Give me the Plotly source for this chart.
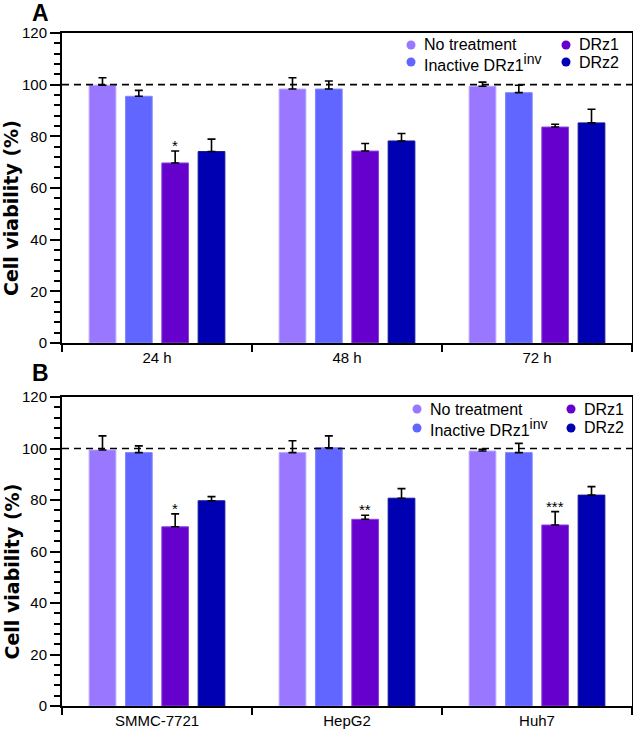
import plotly.graph_objects as go

# ---------------- data ----------------
times = ["24 h", "48 h", "72 h"]
cells = ["SMMC-7721", "HepG2", "Huh7"]
groups = ["No treatment", "Inactive DRz1<sup><span style='font-size:14px'>inv</span></sup>", "DRz1", "DRz2"]
colors = ["#9977ff", "#6066ff", "#6600cc", "#0000b3"]
edge_colors = ["#b8a6ff", "#8088ff", "#8f45dd", "#14149a"]

# Panel A (time course)
a_no = [99.8, 98.3, 99.4]
a_inact = [95.5, 98.3, 96.9]
a_drz1 = [69.7, 74.3, 83.6]
a_drz2 = [74.1, 78.2, 85.2]
a_no_err = [2.9, 4.4, 1.6]
a_inact_err = [2.3, 3.1, 2.9]
a_drz1_err = [4.6, 2.9, 1.1]
a_drz2_err = [4.8, 2.9, 5.3]
a_stars = ["*", "", ""]

# Panel B (cell lines)
b_no = [99.4, 98.4, 99.0]
b_inact = [98.4, 100.3, 98.4]
b_drz1 = [69.6, 72.5, 70.3]
b_drz2 = [79.7, 80.7, 81.9]
b_no_err = [5.5, 4.6, 0.7]
b_inact_err = [2.6, 4.6, 3.6]
b_drz1_err = [5.0, 1.6, 5.2]
b_drz2_err = [1.6, 3.7, 3.3]
b_stars = ["*", "**", "***"]

# ---------------- layout constants ----------------
W, H = 633, 734
ML, MR = 62, 1
PLOT_W = W - ML - MR
BARGAP = 0.235
BARGROUPGAP = 0.265
FONT = "Liberation Sans, Arial, sans-serif"


def px_x(px):
    return (px - ML) / PLOT_W


def px_y(py):
    return (H - py) / H


panels = [
    dict(cats=times, vals=[a_no, a_inact, a_drz1, a_drz2],
         errs=[a_no_err, a_inact_err, a_drz1_err, a_drz2_err],
         stars=a_stars, top=33, bottom=343, label="A", label_y=13,
         leg_x=[411, 566], leg_y=[45, 62], xa="x", ya="y"),
    dict(cats=cells, vals=[b_no, b_inact, b_drz1, b_drz2],
         errs=[b_no_err, b_inact_err, b_drz1_err, b_drz2_err],
         stars=b_stars, top=397, bottom=706, label="B", label_y=373,
         leg_x=[417, 571], leg_y=[409, 428], xa="x2", ya="y2"),
]

fig = go.Figure()
annotations = []
shapes = []

for p in panels:
    for i, g in enumerate(groups):
        fig.add_trace(go.Bar(
            x=p["cats"], y=p["vals"][i], name=g, showlegend=False,
            marker=dict(color=colors[i], line=dict(color=edge_colors[i], width=1)),
            error_y=dict(type="data", symmetric=False, array=p["errs"][i],
                         arrayminus=[0] * len(p["cats"]),
                         color="black", thickness=1.6, width=4),
            xaxis=p["xa"], yaxis=p["ya"],
        ))
    # significance stars over DRz1 bars
    cat_px = PLOT_W / len(p["cats"])
    slot_px = cat_px * (1 - BARGAP) / len(groups)
    drz1_shift = (2 - (len(groups) - 1) / 2) * slot_px
    for j, s in enumerate(p["stars"]):
        if s:
            annotations.append(dict(
                x=p["cats"][j], y=p["vals"][2][j] + p["errs"][2][j],
                xref=p["xa"], yref=p["ya"], text=s, showarrow=False,
                xanchor="center", yanchor="bottom", xshift=drz1_shift, yshift=-5,
                font=dict(family=FONT, size=15, color="black")))
    # dashed 100% line
    shapes.append(dict(type="line", xref=p["xa"] + " domain", yref=p["ya"],
                       x0=0, x1=1, y0=100, y1=100,
                       line=dict(color="black", width=1.6, dash="7px,5px")))
    # panel letter
    annotations.append(dict(x=px_x(40), y=px_y(p["label_y"]), xref="paper", yref="paper",
                            text="<b>" + p["label"] + "</b>", showarrow=False,
                            xanchor="center", yanchor="middle",
                            font=dict(family=FONT, size=23, color="black")))
    # y-axis title
    mid = (p["top"] + p["bottom"]) / 2 + 20
    annotations.append(dict(x=px_x(11), y=px_y(mid), xref="paper", yref="paper",
                            text="<b>Cell viability (%)</b>", textangle=-90, showarrow=False,
                            xanchor="center", yanchor="middle",
                            font=dict(family="DejaVu Sans, sans-serif", size=19, color="black")))
    # legend (two columns)
    order = [[0, 1], [2, 3]]
    for c, col in enumerate(order):
        for r, gi in enumerate(col):
            cx, cy = p["leg_x"][c], p["leg_y"][r]
            shapes.append(dict(type="circle", xref="paper", yref="paper",
                               xsizemode="pixel", ysizemode="pixel",
                               xanchor=px_x(cx), yanchor=px_y(cy),
                               x0=-4.5, x1=4.5, y0=-4.5, y1=4.5,
                               fillcolor=colors[gi], line=dict(width=0)))
            annotations.append(dict(x=px_x(cx + 11), y=px_y(cy), xref="paper", yref="paper",
                                    text=groups[gi], showarrow=False,
                                    xanchor="left", yanchor="middle",
                                    font=dict(family=FONT, size=16, color="black")))

axis_common = dict(showline=True, linecolor="black", linewidth=2, mirror=True,
                   ticks="outside", tickcolor="black", tickwidth=1.6,
                   tickfont=dict(family=FONT, size=15, color="black"),
                   showgrid=False, zeroline=False, automargin=False)

yaxis_common = dict(axis_common, range=[0, 120], dtick=20, tick0=0, ticklen=10,
                    minor=dict(dtick=4, ticklen=6, ticks="outside", tickcolor="black",
                               tickwidth=1.6, showgrid=False))
xaxis_common = dict(axis_common, tickson="boundaries", ticklen=7)

fig.update_layout(
    width=W, height=H,
    margin=dict(l=ML, r=MR, t=0, b=0, autoexpand=False),
    paper_bgcolor="white", plot_bgcolor="white",
    barmode="group", bargap=BARGAP, bargroupgap=BARGROUPGAP,
    xaxis=dict(xaxis_common, domain=[0, 1], anchor="y"),
    yaxis=dict(yaxis_common, domain=[px_y(343), px_y(33)], anchor="x"),
    xaxis2=dict(xaxis_common, domain=[0, 1], anchor="y2"),
    yaxis2=dict(yaxis_common, domain=[px_y(706), px_y(397)], anchor="x2"),
    annotations=annotations, shapes=shapes,
    font=dict(family=FONT, color="black"),
    showlegend=False,
)

fig.write_html(
    "out.html",
    config={"displayModeBar": False},
    post_script="document.body.style.margin='0';document.body.style.overflow='hidden';",
)
